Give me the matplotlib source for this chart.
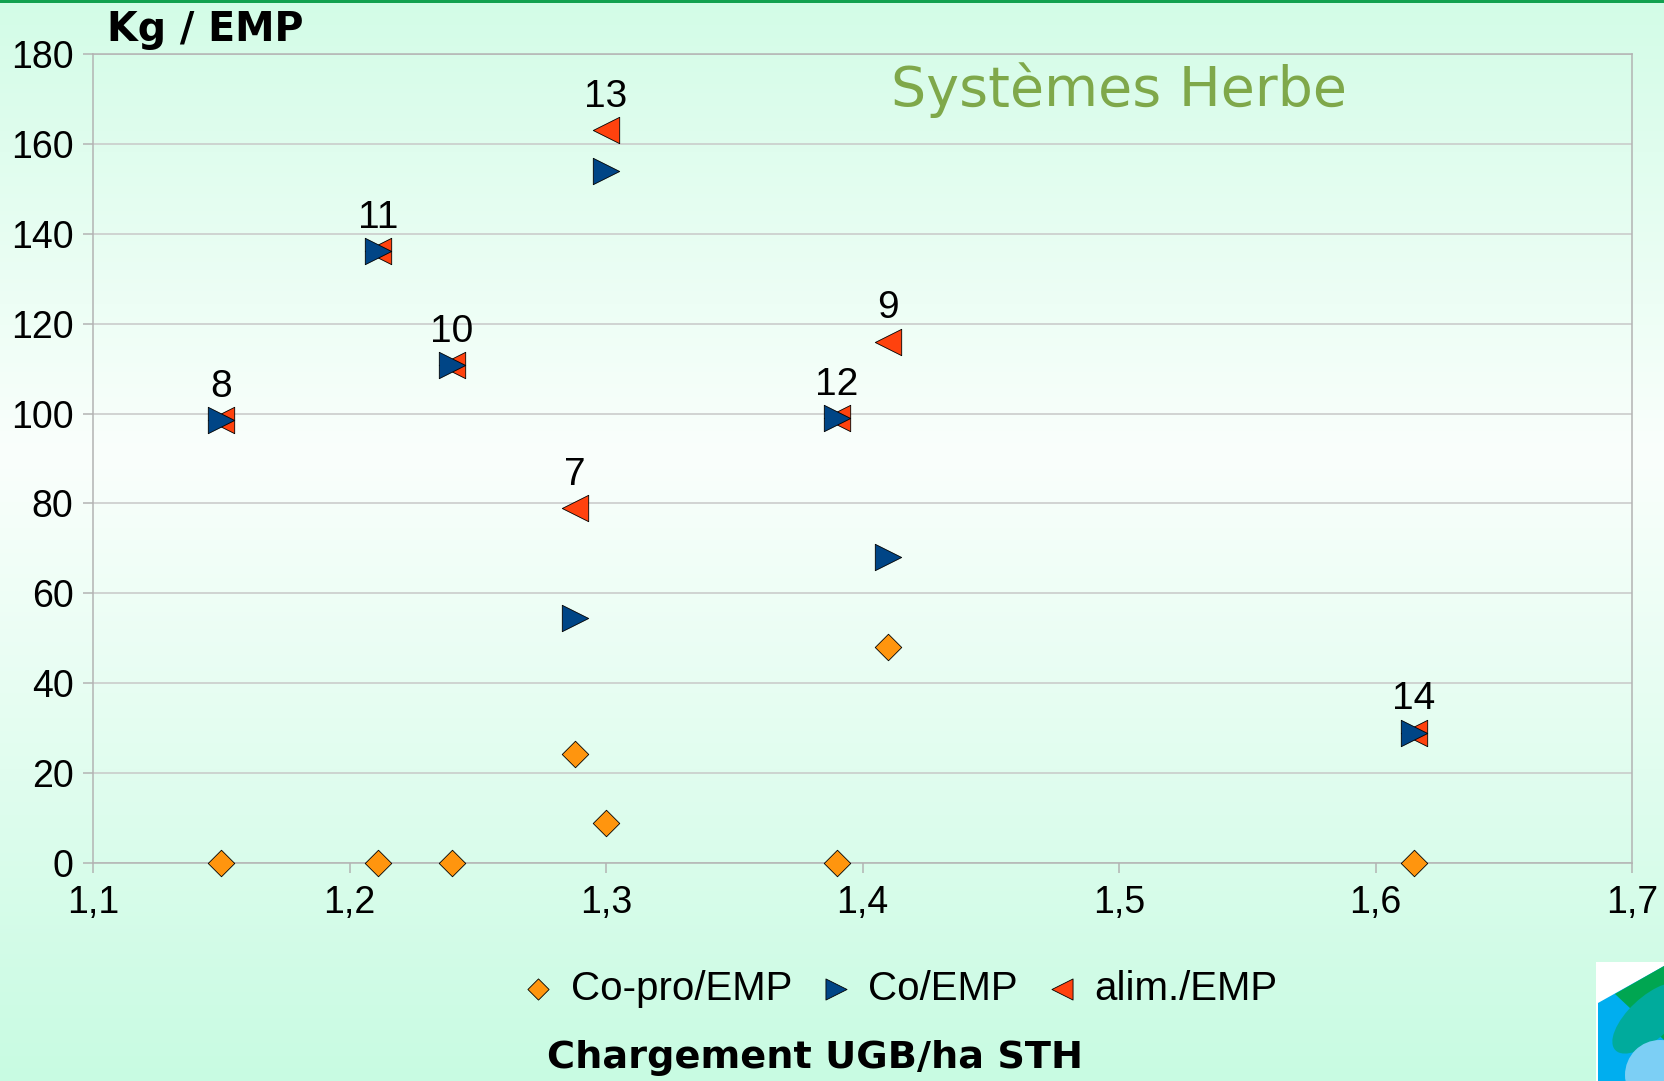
import numpy as np
import matplotlib.pyplot as plt
from matplotlib.patches import Polygon, Ellipse, Rectangle
from matplotlib.colors import LinearSegmentedColormap
from matplotlib.ticker import FuncFormatter

# data: one entry per farm
farms = ['8', '11', '10', '7', '13', '12', '9', '14']
chargement = [1.15, 1.211, 1.24, 1.288, 1.30, 1.39, 1.41, 1.615]
copro_emp = [0, 0, 0, 24.3, 9, 0, 48, 0]
co_emp = [98.5, 136.2, 110.7, 54.6, 154, 99, 68, 29]
alim_emp = [98.5, 136.2, 110.7, 79, 163, 99, 116, 29]

x_ticks = [1.1, 1.2, 1.3, 1.4, 1.5, 1.6, 1.7]
y_ticks = list(range(0, 181, 20))

W, H = 1664, 1081
grid_col = '#b3b3b3'


def px(x, y):
    # figure pixel (from top-left) -> figure fraction
    return x / W, 1 - y / H


fig = plt.figure(figsize=(W / 100, H / 100), dpi=100)

# mint -> white -> mint background
bg = fig.add_axes([0, 0, 1, 1], zorder=-10)
cmap = LinearSegmentedColormap.from_list(
    'bg', [(0.0, '#d3fce7'), (0.42, '#fafffc'), (1.0, '#c8fbe2')])
bg.imshow(np.linspace(0, 1, 256)[:, None], cmap=cmap, aspect='auto',
          extent=[0, 1, 0, 1])
bg.set_axis_off()
fig.add_artist(Rectangle(px(0, 3), 1, 3 / H, transform=fig.transFigure,
                         color='#12a150', lw=0))

l, t = px(93, 54)
r, b = px(1632, 863)
ax = fig.add_axes([l, b, r - l, t - b])
ax.set_facecolor('none')

ax.scatter(chargement, alim_emp, marker='<', s=19 ** 2, color='#ff420e',
           edgecolor='black', linewidth=0.6, zorder=3, clip_on=False,
           label='alim./EMP')
ax.scatter(chargement, co_emp, marker='>', s=19 ** 2, color='#004586',
           edgecolor='black', linewidth=0.6, zorder=4, clip_on=False,
           label='Co/EMP')
ax.scatter(chargement, copro_emp, marker='D', s=13.5 ** 2, color='#ff950e',
           edgecolor='black', linewidth=0.6, zorder=5, clip_on=False,
           label='Co-pro/EMP')

for name, xv, yv in zip(farms, chargement, alim_emp):
    ax.annotate(name, (xv, yv), xytext=(0, 24), textcoords='offset points',
                ha='center', va='center', fontsize=28,
                family='Liberation Sans')

ax.set_xlim(1.1, 1.7)
ax.set_ylim(0, 180)
ax.set_xticks(x_ticks)
ax.set_yticks(y_ticks)
ax.xaxis.set_major_formatter(FuncFormatter(lambda v, p: f'{v:.1f}'.replace('.', ',')))
ax.tick_params(axis='both', direction='out', length=7, width=1.1,
               color=grid_col, labelsize=27, pad=7)
ax.tick_params(axis='x', pad=9)
for lab in ax.get_xticklabels() + ax.get_yticklabels():
    lab.set_family('Liberation Sans')
ax.grid(axis='y', color='#c8c8c8', lw=1.1)
ax.set_axisbelow(True)
for sp in ax.spines.values():
    sp.set_color(grid_col)
    sp.set_linewidth(1.1)

handles, labels = ax.get_legend_handles_labels()
order = [2, 1, 0]
leg = fig.legend([handles[i] for i in order], [labels[i] for i in order],
                 loc='center', bbox_to_anchor=px(900, 989), ncol=3,
                 frameon=False, markerscale=0.8, handlelength=0.8,
                 handletextpad=0.4, columnspacing=0.7,
                 prop={'family': 'Liberation Sans', 'size': 29})

fig.text(*px(107, 30), 'Kg / EMP', fontsize=28.5, fontweight='bold',
         ha='left', va='center')
fig.text(*px(815, 1058), 'Chargement UGB/ha STH', fontsize=27.5,
         fontweight='bold', ha='center', va='center')
fig.text(*px(891, 106), 'Systèmes Herbe', fontsize=40, color='#7fa84a',
         ha='left', va='baseline')

# corner logo, partly cut off
tf = fig.transFigure
fig.add_artist(Rectangle(px(1596, 1081), 68 / W, 119 / H, transform=tf,
                         color='white', lw=0))
fig.add_artist(Polygon([px(1598, 1003), px(1664, 966), px(1664, 1081),
                        px(1598, 1081)], transform=tf, color='#00aeef', lw=0))
fig.add_artist(Polygon([px(1615, 994), px(1664, 966), px(1664, 1040)],
                       transform=tf, color='#00a651', lw=0))
fig.add_artist(Ellipse(px(1650, 1018), 50 / W, 80 / H, angle=-30,
                       transform=tf, color='#00ab9c', lw=0))
fig.add_artist(Ellipse(px(1660, 1075), 70 / W, 70 / H, transform=tf,
                       color='#7ccff5', lw=0))

fig.savefig('out.png', dpi=100)
